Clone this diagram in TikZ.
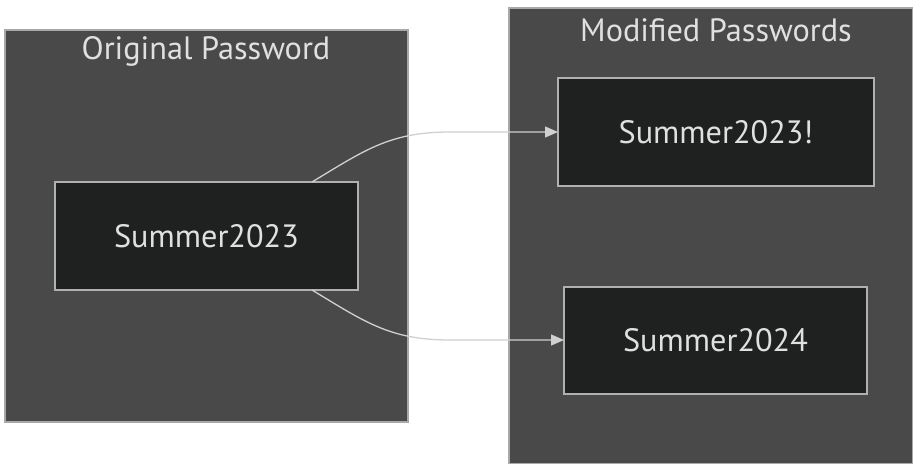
\documentclass[tikz,border=0pt]{standalone}
\usepackage{fontspec}
\setmainfont{PT Sans}
\usetikzlibrary{arrows.meta,calc}
\definecolor{clfill}{HTML}{484948}
\definecolor{clline}{HTML}{A8A8A8}
\definecolor{ndfill}{HTML}{1F2020}
\definecolor{ndline}{HTML}{B0B0B0}
\definecolor{txt}{HTML}{E0E0E0}
\definecolor{edge}{HTML}{D0D0D0}
\tikzset{
  cluster/.style={fill=clfill,draw=clline,line width=1.2pt},
  pwbox/.style={fill=ndfill,draw=ndline,line width=1.5pt},
  lbl/.style={text=txt,font=\fontsize{32.3}{36}\selectfont,inner sep=0pt},
  conn/.style={draw=edge,line width=1.3pt,-{Triangle[length=13pt,width=11pt]}}
}
\begin{document}
\begin{tikzpicture}[x=1pt,y=-1pt]
\useasboundingbox (0,0) rectangle (913,464);
% clusters
\path[cluster] (5,30) rectangle (408,422);
\node[lbl] (t1) at (206,51) {Original Password};
\path[cluster] (509,8) rectangle (913,463.5);
\node[lbl] (t2) at (716,30) {Modified Passwords};
% nodes
\path[pwbox] (55,182) rectangle (358,290);
\node[lbl] (s23) at (206.5,236) {Summer2023};
\coordinate (s23top) at (312,182);
\coordinate (s23bot) at (312,290);
\path[pwbox] (558,78) rectangle (874,186);
\node[lbl] (s23x) at (716,132) {Summer2023!};
\coordinate (s23xin) at (558,132);
\path[pwbox] (564,287) rectangle (867,394);
\node[lbl] (s24) at (715.5,340) {Summer2024};
\coordinate (s24in) at (564,340);
% edges
\draw[conn] (s23top) .. controls (365,150) and (390,132) .. (450,132) -- (s23xin);
\draw[conn] (s23bot) .. controls (365,322) and (390,340) .. (450,340) -- (s24in);
\end{tikzpicture}
\end{document}
